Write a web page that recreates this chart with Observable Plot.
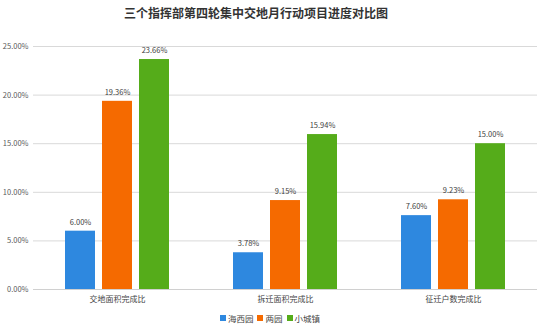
<!DOCTYPE html>
<html>
<head>
<meta charset="utf-8">
<script src="https://cdn.jsdelivr.net/npm/d3@7"></script>
<script src="https://cdn.jsdelivr.net/npm/@observablehq/plot@0.6"></script>
<style>
  body { margin: 0; background: #fff; font-family: "Noto Sans CJK SC", "Noto Sans", sans-serif; }
  #wrap { width: 538px; height: 326px; position: relative; overflow: hidden; }
  #title { height: 26px; line-height: 26px; text-align: center; font-size: 12px; font-weight: bold; color: #333; padding-right: 26px; }
  #legend { display: flex; justify-content: center; align-items: center; font-size: 8.5px; color: #444; height: 16px; margin-top: 1px; }
  #legend span.sw { display: inline-block; width: 6px; height: 6px; margin-right: 2px; margin-left: 3px; }
  #legend span.lab { margin-right: 1px; }
</style>
</head>
<body>
<div id="wrap">
  <div id="title">三个指挥部第四轮集中交地月行动项目进度对比图</div>
  <div id="chart"></div>
  <div id="legend"></div>
</div>
<script>
const categories = ["交地面积完成比", "拆迁面积完成比", "征迁户数完成比"];
const seriesNames = ["海西园", "两园", "小城镇"];
const seriesColors = ["#2E88DF", "#F56A00", "#55AC1A"];
const valuesHaixi = [6.00, 3.78, 7.60];
const valuesLiangyuan = [19.36, 9.15, 9.23];
const valuesXiaocheng = [23.66, 15.94, 15.00];
const yTicks = [0, 5, 10, 15, 20, 25];

const seriesValues = [valuesHaixi, valuesLiangyuan, valuesXiaocheng];
const data = [];
categories.forEach((c, i) => {
  seriesNames.forEach((s, j) => {
    data.push({cat: c, series: s, value: seriesValues[j][i]});
  });
});

const fmt = d => d.toFixed(2) + "%";

const chart = Plot.plot({
  width: 538,
  height: 283,
  marginTop: 20,
  marginBottom: 20,
  marginLeft: 33,
  marginRight: 1,
  style: {fontFamily: "'Noto Sans CJK SC', 'Noto Sans', sans-serif", background: "#fff"},
  fx: {domain: categories, paddingInner: 0, paddingOuter: 0, label: null},
  x: {domain: seriesNames, paddingInner: 0.2, paddingOuter: 0.84, axis: null},
  y: {domain: [0, 25], label: null},
  color: {domain: seriesNames, range: seriesColors},
  marks: [
    Plot.gridY(yTicks, {stroke: "#d9d9d9", strokeOpacity: 1}),
    Plot.axisY(yTicks, {tickSize: 0, tickPadding: 5, tickFormat: fmt, fontSize: 7.5, fill: "#595959", label: null}),
    Plot.axisFx({anchor: "bottom", tickSize: 0, tickPadding: 7, fontSize: 8, fill: "#444", label: null}),
    Plot.barY(data, {fx: "cat", x: "series", y: "value", fill: "series"}),
    Plot.ruleY([0], {stroke: "#d0d0d0"}),
    Plot.text(data, {fx: "cat", x: "series", y: "value", text: d => fmt(d.value), dy: -9, fontSize: 7.5, fill: "#404040"})
  ]
});
document.getElementById("chart").appendChild(chart);

const legend = document.getElementById("legend");
seriesNames.forEach((s, i) => {
  const sw = document.createElement("span");
  sw.className = "sw";
  sw.style.background = seriesColors[i];
  const lab = document.createElement("span");
  lab.className = "lab";
  lab.textContent = s;
  legend.appendChild(sw);
  legend.appendChild(lab);
});
</script>
</body>
</html>
